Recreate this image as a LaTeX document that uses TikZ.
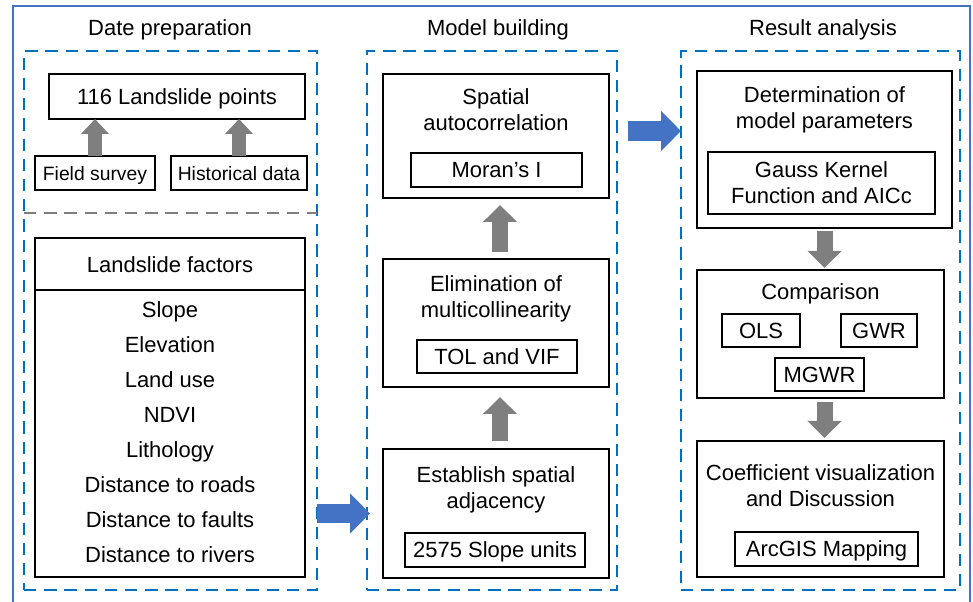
\documentclass[tikz,border=0pt]{standalone}
\usepackage{fontspec}
\setmainfont{Liberation Sans}
\usetikzlibrary{arrows.meta,positioning}
\definecolor{frameblue}{HTML}{4472C4}
\definecolor{dashblue}{HTML}{0070C0}
\definecolor{arrgray}{HTML}{7F7F7F}
\definecolor{arrblue}{HTML}{4472C4}

\begin{document}
\begin{tikzpicture}[
	stage/.style={shape=rectangle, draw=dashblue, line width=1.1pt, dash pattern=on 7pt off 4.5pt, outer sep=0pt},
	block/.style={shape=rectangle, draw, line width=1pt, outer sep=0pt},
	txt/.style={anchor=center, align=center, inner sep=0pt, font=\fontsize{12.5}{14.7}\selectfont},
	one/.style={text height=0.95em, text depth=0.05em},
	small/.style={font=\fontsize{11}{13}\selectfont},
	garrow/.style={draw=arrgray, line width=0.32cm, -{Triangle[length=0.34cm, width=0.66cm]}},
	sgarrow/.style={draw=arrgray, line width=0.28cm, -{Triangle[length=0.30cm, width=0.54cm]}},
	barrow/.style={draw=arrblue, line width=0.40cm, -{Triangle[length=0.40cm, width=0.78cm]}}
]
	\useasboundingbox (0,0) rectangle (19.46,12.04);
	% Frame and stages:
	\draw[frameblue, line width=0.8pt] (0.26,0) -- (0.26,11.92) -- (19.40,11.92) -- (19.40,0);
	\node[stage, minimum width=5.86cm, minimum height=10.78cm] (prep) at (3.41, 5.63) {};
	\node[stage, minimum width=5.00cm, minimum height=10.78cm] (build) at (9.84, 5.63) {};
	\node[stage, minimum width=5.58cm, minimum height=10.78cm] (result) at (16.41, 5.63) {};
	\node[txt, one] (prept) at (3.40, 11.48) {Date preparation};
	\node[txt, one] (buildt) at (9.96, 11.48) {Model building};
	\node[txt, one] (resultt) at (16.46, 11.48) {Result analysis};
	\draw[arrgray, line width=1.1pt, dash pattern=on 7pt off 4.5pt] (prep.west |- 0,7.78) -- (prep.east |- 0,7.78);

	% Date preparation:
	\node[block, txt, one, minimum width=5.12cm, minimum height=0.90cm] (pts) at (3.54, 10.11) {116 Landslide points};
	\node[block, txt, one, small, minimum width=2.40cm, minimum height=0.68cm] (fs) at (1.90, 8.58) {Field survey};
	\node[block, txt, one, small, minimum width=2.72cm, minimum height=0.68cm] (hd) at (4.78, 8.58) {Historical data};
	\draw[sgarrow] (fs.north) -- (fs.north |- pts.south);
	\draw[sgarrow] (hd.north) -- (hd.north |- pts.south);
	\node[block, minimum width=5.40cm, minimum height=6.78cm] (fac) at (3.40, 3.89) {};
	\draw[line width=1pt] ([yshift=-1.04cm]fac.north west) -- ([yshift=-1.04cm]fac.north east);
	\node[txt, one] (fach) at (3.40, 6.74) {Landslide factors};
	\foreach \t [count=\i] in {Slope, Elevation, Land use, NDVI, Lithology, Distance to roads, Distance to faults, Distance to rivers}
		\node[txt, one] (f\i) at (3.40, 6.54-0.70*\i) {\t};

	% Model building:
	\node[block, minimum width=4.52cm, minimum height=2.48cm] (sac) at (9.92, 9.32) {};
	\node[txt] (sact) at (9.92, 9.84) {Spatial\\autocorrelation};
	\node[block, txt, one, minimum width=3.42cm, minimum height=0.68cm] (moran) at (9.93, 8.64) {Moran’s I};
	\node[block, minimum width=4.52cm, minimum height=2.56cm] (elim) at (9.92, 5.58) {};
	\node[txt] (elimt) at (9.92, 6.06) {Elimination of\\multicollinearity};
	\node[block, txt, one, minimum width=3.20cm, minimum height=0.66cm] (tol) at (9.94, 4.91) {TOL and VIF};
	\node[block, minimum width=4.52cm, minimum height=2.58cm] (adj) at (9.92, 1.77) {};
	\node[txt] (adjt) at (9.92, 2.25) {Establish spatial\\adjacency};
	\node[block, txt, one, minimum width=3.60cm, minimum height=0.68cm] (units) at (9.90, 1.04) {2575 Slope units};
	\draw[garrow, shorten <=0.14cm, shorten >=0.14cm] ([xshift=0.08cm]elim.north) -- ([xshift=0.08cm]sac.south);
	\draw[garrow, shorten <=0.16cm, shorten >=0.20cm] ([xshift=0.08cm]adj.north) -- ([xshift=0.08cm]elim.south);

	% Result analysis:
	\node[block, minimum width=5.10cm, minimum height=3.14cm] (det) at (16.49, 9.05) {};
	\node[txt] (dett) at (16.49, 9.85) {Determination of\\model parameters};
	\node[block, txt, minimum width=4.54cm, minimum height=1.24cm] (gauss) at (16.43, 8.38) {Gauss Kernel\\Function and AICc};
	\node[block, minimum width=4.94cm, minimum height=2.56cm] (cmp) at (16.41, 5.36) {};
	\node[txt, one] (cmpt) at (16.41, 6.20) {Comparison};
	\node[block, txt, one, minimum width=1.56cm, minimum height=0.66cm] (ols) at (15.22, 5.43) {OLS};
	\node[block, txt, one, minimum width=1.52cm, minimum height=0.66cm] (gwr) at (17.58, 5.43) {GWR};
	\node[block, txt, one, minimum width=1.78cm, minimum height=0.66cm] (mgwr) at (16.39, 4.55) {MGWR};
	\node[block, minimum width=4.94cm, minimum height=2.72cm] (coef) at (16.41, 1.86) {};
	\node[txt] (coeft) at (16.41, 2.33) {Coefficient visualization\\and Discussion};
	\node[block, txt, one, minimum width=3.66cm, minimum height=0.68cm] (arcgis) at (16.53, 1.06) {ArcGIS Mapping};
	\draw[garrow, shorten <=0.06cm, shorten >=0.04cm] (det.south) -- (det.south |- cmp.north);
	\draw[garrow, shorten <=0.08cm, shorten >=0.06cm] (det.south |- cmp.south) -- (det.south |- coef.north);

	% Links between stages:
	\coordinate (hop) at ([yshift=0.10cm]sac.east);
	\draw[barrow, line width=0.38cm, shorten >=-0.06cm] (prep.east |- adj.east) -- (build.west |- adj.east);
	\draw[barrow, shorten <=0.22cm] (build.east |- hop) -- (result.west |- hop);
\end{tikzpicture}
\end{document}
